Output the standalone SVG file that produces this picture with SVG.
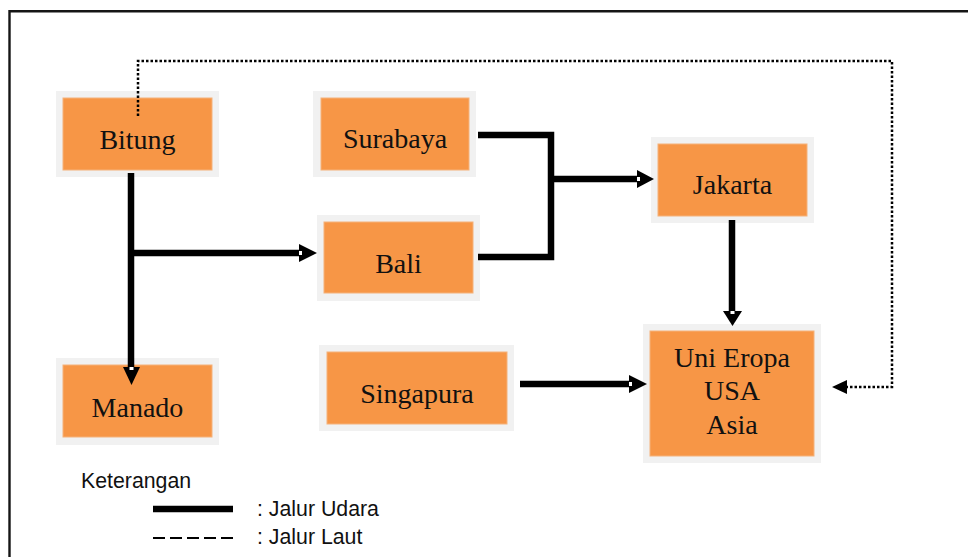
<svg xmlns="http://www.w3.org/2000/svg" width="968" height="557" viewBox="0 0 968 557">
<style>
.halo{fill:#f1f1f1}
.box{fill:#f79646;stroke:#f5b27a;stroke-width:1}
.lbl{font-family:"Liberation Serif","Times New Roman",serif;font-size:28px;fill:#111;text-anchor:middle}
.air{fill:none;stroke:#000;stroke-width:6.5}
.sea{fill:none;stroke:#000;stroke-width:2.5;stroke-dasharray:2.5 2}
.leg{font-family:"Liberation Sans",Arial,sans-serif;font-size:21.3px;fill:#111}
.head{fill:#000}
.notch{fill:#fff}
</style>
<rect width="968" height="557" fill="#fff"/>
<path d="M9.5,557 V11.2 H968" fill="none" stroke="#151515" stroke-width="2.4"/>

<g id="node-bitung">
<rect class="halo" x="56" y="91" width="163" height="86"/>
<rect class="box" x="63" y="98" width="149" height="72"/>
<text class="lbl" x="137.5" y="149">Bitung</text>
</g>
<g id="node-surabaya">
<rect class="halo" x="313" y="91" width="163" height="86"/>
<rect class="box" x="321" y="98" width="148" height="72"/>
<text class="lbl" x="395" y="148">Surabaya</text>
</g>
<g id="node-bali">
<rect class="halo" x="317" y="215" width="163" height="86"/>
<rect class="box" x="324" y="222" width="149" height="71"/>
<text class="lbl" x="398.5" y="273">Bali</text>
</g>
<g id="node-jakarta">
<rect class="halo" x="651" y="137" width="163" height="86"/>
<rect class="box" x="658" y="144" width="149" height="72"/>
<text class="lbl" x="732.5" y="194">Jakarta</text>
</g>
<g id="node-tujuan">
<rect class="halo" x="643" y="324" width="178" height="139"/>
<rect class="box" x="650" y="331" width="164" height="125"/>
<text class="lbl" x="732" y="367">Uni Eropa</text>
<text class="lbl" x="732" y="400">USA</text>
<text class="lbl" x="732" y="434">Asia</text>
</g>
<g id="node-manado">
<rect class="halo" x="56" y="358" width="163" height="87"/>
<rect class="box" x="63" y="365" width="149" height="72"/>
<text class="lbl" x="137.5" y="417">Manado</text>
</g>
<g id="node-singapura">
<rect class="halo" x="319" y="345" width="195" height="86"/>
<rect class="box" x="327" y="352" width="180" height="72"/>
<text class="lbl" x="417" y="403">Singapura</text>
</g>

<g id="connectors">
<!-- Bitung to Manado -->
<path class="air" d="M131,173 V370"/>
<polygon class="head" points="123,367 140,367 131.5,385"/>
<rect class="notch" x="129.5" y="367" width="4" height="3"/>
<!-- Bitung to Bali -->
<path class="air" d="M131,253 H301"/>
<polygon class="head" points="299,244 317,253 299,262"/>
<rect class="notch" x="299" y="251" width="3" height="4"/>
<!-- Surabaya & Bali to Jakarta -->
<path class="air" d="M478,135 H551 V257 H478"/>
<path class="air" d="M551,179 H639"/>
<polygon class="head" points="637,170 654,179 637,188"/>
<rect class="notch" x="637" y="177" width="3" height="4"/>
<!-- Jakarta to Uni Eropa -->
<path class="air" d="M732,220 V314"/>
<polygon class="head" points="723,311 742,311 732.5,326"/>
<rect class="notch" x="730.5" y="311" width="4" height="3"/>
<!-- Singapura to Uni Eropa -->
<path class="air" d="M520,384 H631"/>
<polygon class="head" points="629,375 647,384 629,393"/>
<rect class="notch" x="629" y="382" width="3" height="4"/>
<!-- Sea route Bitung to Uni Eropa -->
<path class="sea" d="M138,116 V61 H892 V387 H846"/>
<polygon class="head" points="847,380 847,394 832,387"/>
</g>

<g id="legend">
<text class="leg" x="81" y="488">Keterangan</text>
<line x1="153" y1="509" x2="233" y2="509" stroke="#000" stroke-width="6.5"/>
<text class="leg" x="257" y="516">: Jalur Udara</text>
<line x1="153" y1="538" x2="233" y2="538" stroke="#000" stroke-width="2" stroke-dasharray="12 5"/>
<text class="leg" x="257" y="544">: Jalur Laut</text>
</g>
</svg>
